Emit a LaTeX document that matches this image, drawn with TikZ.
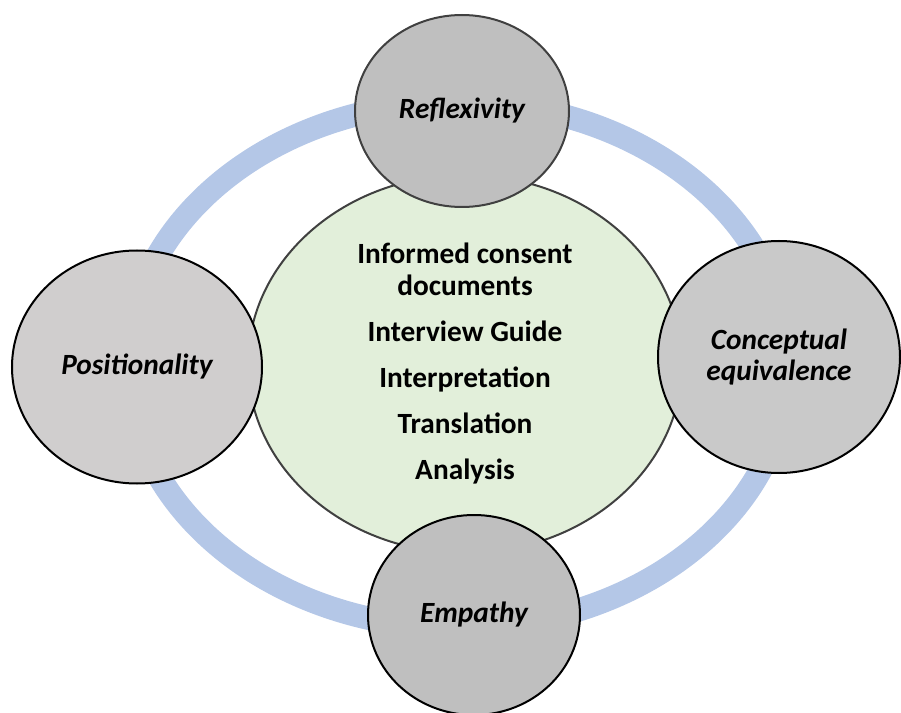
\documentclass[tikz,border=0pt]{standalone}
\usepackage{fontspec}
\setmainfont{Carlito}
\usepackage{tikz}
\usetikzlibrary{
        shapes.geometric
    }
\definecolor{ringblue}{RGB}{180,199,231}
\definecolor{coregreen}{RGB}{226,239,218}
\definecolor{rimgray}{RGB}{64,64,64}
\definecolor{fillgray}{RGB}{191,191,191}
\definecolor{fillrose}{RGB}{208,206,206}
\definecolor{fillmid}{RGB}{201,201,201}
\tikzset{x=0.75pt,y=-0.75pt}
\tikzset{size/.style 2 args={minimum width=#1*0.75pt,minimum height=#2*0.75pt}}
\tikzset{theme/.style={ellipse,draw=black,line width=1.5pt,inner sep=0pt,align=center,
        font=\fontsize{22}{23.5}\selectfont\bfseries\itshape}}

\begin{document}
\begin{tikzpicture}[
        core/.style={ellipse,draw=rimgray,fill=coregreen,line width=1.5pt,inner sep=0pt,
            align=center,font=\fontsize{22}{24}\selectfont\bfseries},
        ring/.style={draw=ringblue,line width=17.5pt}
    ]
            \useasboundingbox (0,0) rectangle (901,713);
            % outer band behind everything
            \draw [ring] (458,365) ellipse [x radius=330, y radius=263];
            \node [core,size={434}{378}] (core) at (465,364)
                {Informed consent\\documents\\[10.5pt]Interview Guide\\[10.5pt]Interpretation\\[10.5pt]Translation\\[10.5pt]Analysis};
            \node [theme,draw=rimgray,fill=fillgray,size={214}{192}] (reflex) at (462,111) {Reflexivity};
            \node [theme,fill=fillrose,size={250}{233}] (position) at (137,367) {Positionality};
            \node [theme,fill=fillmid,size={242}{232}] (concept) at (779,357) {Conceptual\\equivalence};
            \node [theme,fill=fillgray,size={212}{200}] (empathy) at (474,615) {Empathy};
        \end{tikzpicture}
\end{document}
